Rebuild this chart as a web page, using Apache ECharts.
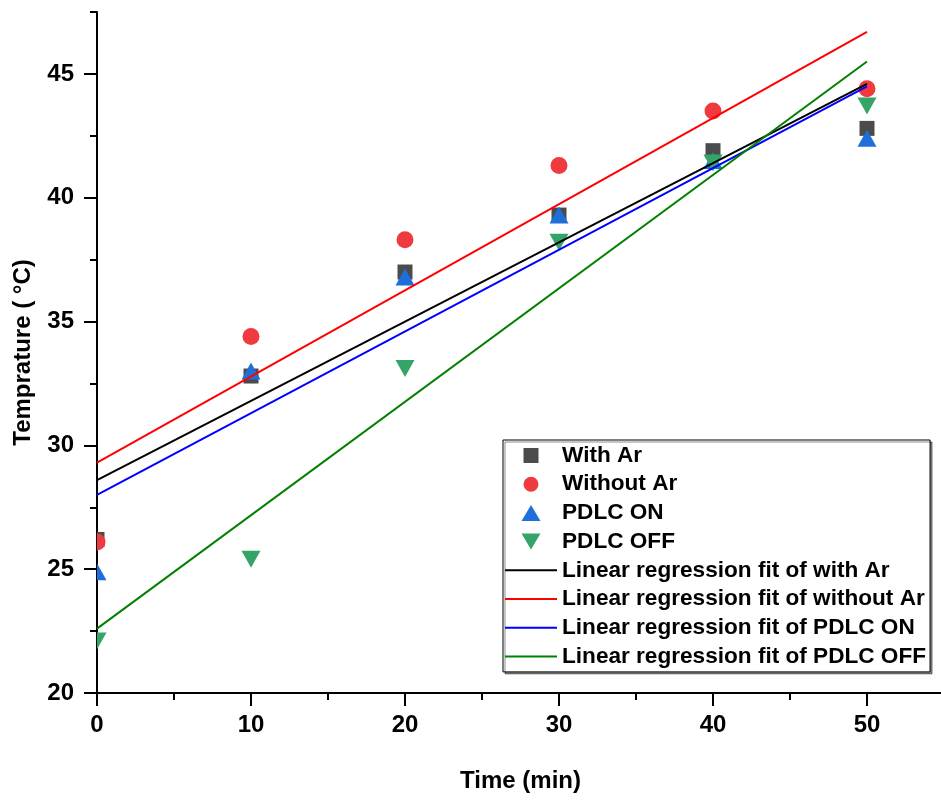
<!DOCTYPE html>
<html>
<head>
<meta charset="utf-8">
<script src="https://cdn.jsdelivr.net/npm/echarts@6/dist/echarts.min.js"></script>
<style>
  html, body { margin: 0; padding: 0; background: #fff; }
  #chart { width: 941px; height: 800px; }
</style>
</head>
<body>
<div id="chart"></div>
<script>
// measured points (time in min, temperature in °C)
const timeMin = [0, 10, 20, 30, 40, 50]
const withAr = [26.2, 32.8, 37.0, 39.3, 41.9, 42.8]
const withoutAr = [26.1, 34.4, 38.3, 41.3, 43.5, 44.4]
const pdlcOn = [24.9, 33.0, 36.8, 39.3, 41.5, 42.4]
const pdlcOff = [22.1, 25.4, 33.1, 38.2, 41.4, 43.7]

// fitted lines, read at both ends
const fitX = [0, 50]
const fitWithAr = [28.6, 44.6]
const fitWithoutAr = [29.3, 46.7]
const fitOn = [28.0, 44.5]
const fitOff = [22.6, 45.5]

const xTicks = [0, 10, 20, 30, 40, 50]
const yTicks = [20, 25, 30, 35, 40, 45]

const FONT = 'Liberation Sans, Arial, sans-serif'
const GRID = { left: 97, width: 847, top: 12, bottom: 107, outerBoundsMode: 'none', containLabel: false }
const pairs = (xs, ys) => xs.map((x, i) => [x, ys[i]])

// legend icons: tiny corner dots pin the bbox to 52x16 so shapes are not stretched
const box = (shape) => 'path://M0,0 L0.01,0 L0,0.01 Z ' + shape + ' M52,16 L51.99,16 L52,15.99 Z'
const ICONS = {
  square: box('M18.5,0.5 L33.5,0.5 L33.5,15.5 L18.5,15.5 Z'),
  circle: box('M18.5,8 A7.5,7.5 0 1,0 33.5,8 A7.5,7.5 0 1,0 18.5,8 Z'),
  up: box('M16.5,16 L26,0 L35.5,16 Z'),
  down: box('M16.5,0 L35.5,0 L26,16 Z'),
  line: box('M0,7 L52,7 L52,9 L0,9 Z'),
}

// marker shapes around a pixel centre; custom series so the grid clips them
const SHAPES = {
  square: (x, y) => ({ type: 'rect', shape: { x: x - 7.5, y: y - 7.5, width: 15, height: 15 } }),
  circle: (x, y) => ({ type: 'circle', shape: { cx: x, cy: y, r: 8.5 } }),
  up: (x, y) => ({ type: 'polygon', shape: { points: [[x - 9.5, y + 8.5], [x, y - 8.5], [x + 9.5, y + 8.5]] } }),
  down: (x, y) => ({ type: 'polygon', shape: { points: [[x - 9.5, y - 8.5], [x + 9.5, y - 8.5], [x, y + 8.5]] } }),
}

const chart = echarts.init(document.getElementById('chart'))

const mainAxis = (min, max, interval, ticks, margin) => ({
  type: 'value',
  min, max, interval,
  axisLine: { show: true, lineStyle: { color: '#000', width: 2 } },
  axisTick: { show: true, length: 13, customValues: ticks, lineStyle: { color: '#000', width: 2 } },
  axisLabel: {
    customValues: ticks,
    margin,
    color: '#000', fontSize: 24, fontWeight: 'bold', fontFamily: FONT,
  },
  splitLine: { show: false },
})

const minorAxis = (min, max, interval, position) => ({
  type: 'value',
  gridIndex: 1,
  position,
  min, max, interval,
  axisLine: { show: false },
  axisTick: { show: true, length: 7, lineStyle: { color: '#000', width: 2 } },
  axisLabel: { show: false },
  splitLine: { show: false },
})

const markers = (name, ys, shape, color) => ({
  name,
  type: 'custom',
  data: pairs(timeMin, ys),
  itemStyle: { color },
  clip: true,
  z: 2,
  renderItem: (params, api) => {
    const [x, y] = api.coord([api.value(0), api.value(1)])
    return { ...SHAPES[shape](x, y), style: { fill: color } }
  },
})

const fit = (name, ys, color) => ({
  name,
  type: 'line',
  data: pairs(fitX, ys),
  symbol: 'none',
  lineStyle: { color, width: 2 },
  itemStyle: { color },
  clip: true,
  z: 3,
})

const series = [
  markers('With Ar', withAr, 'square', '#4b4b4b'),
  markers('Without Ar', withoutAr, 'circle', '#ef3b3f'),
  markers('PDLC ON', pdlcOn, 'up', '#1f6fdb'),
  markers('PDLC OFF', pdlcOff, 'down', '#35a567'),
  fit('Linear regression fit of with Ar', fitWithAr, '#000000'),
  fit('Linear regression fit of without Ar', fitWithoutAr, '#ff0000'),
  fit('Linear regression fit of PDLC ON', fitOn, '#0000ff'),
  fit('Linear regression fit of PDLC OFF', fitOff, '#008000'),
]
const legendIcons = ['square', 'circle', 'up', 'down', 'line', 'line', 'line', 'line']

chart.setOption({
  animation: false,
  grid: [GRID, GRID],
  xAxis: [
    {
      ...mainAxis(0, 55, 10, xTicks, 20),
      name: 'Time (min)',
      nameLocation: 'middle',
      nameGap: 76,
      nameTextStyle: { color: '#000', fontSize: 24, fontWeight: 'bold', fontFamily: FONT },
    },
    minorAxis(0, 55, 5, 'bottom'),
  ],
  yAxis: [
    {
      ...mainAxis(20, 47.5, 5, yTicks, 23),
      name: 'Temprature ( °C)',
      nameLocation: 'middle',
      nameRotate: 90,
      nameGap: 62,
      nameTextStyle: { color: '#000', fontSize: 24, fontWeight: 'bold', fontFamily: FONT },
    },
    minorAxis(20, 47.5, 2.5, 'left'),
  ],
  legend: {
    orient: 'vertical',
    left: 503,
    top: 440,
    z: 10,
    padding: [4, 4, 4, 2],
    itemWidth: 52,
    itemHeight: 16,
    itemGap: 5.7,
    backgroundColor: '#fff',
    borderColor: '#000',
    borderWidth: 1,
    borderRadius: 0,
    shadowColor: 'rgba(0,0,0,0.45)',
    shadowOffsetX: 2,
    shadowOffsetY: 2,
    shadowBlur: 0,
    textStyle: { color: '#000', fontSize: 22.6, lineHeight: 22, fontWeight: 'bold', fontFamily: FONT },
    selectedMode: false,
    data: series.map((s, i) => ({ name: s.name, icon: ICONS[legendIcons[i]] })),
  },
  series,
})
</script>
</body>
</html>
